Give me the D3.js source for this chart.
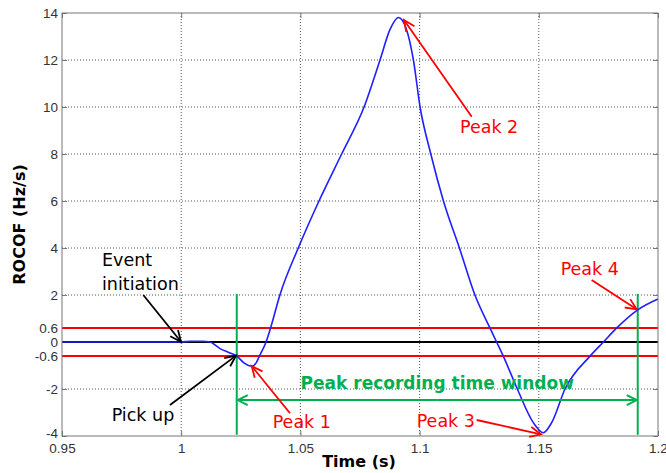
<!DOCTYPE html>
<html>
<head>
<meta charset="utf-8">
<script src="https://cdn.jsdelivr.net/npm/d3@7"></script>
<style>
  html, body { margin: 0; padding: 0; background: #fff; }
  svg { display: block; }
</style>
</head>
<body>
<svg id="chart" width="666" height="473"></svg>
<script>
// ---- data ----
const time = [0.95, 0.97, 0.99, 1.0, 1.004, 1.009, 1.012, 1.0163, 1.02, 1.0233, 1.0265, 1.0296, 1.0315, 1.0328,
  1.0356, 1.0375, 1.0414, 1.0491, 1.0578, 1.0673, 1.0767, 1.0834, 1.0876, 1.0911, 1.0945, 1.0974, 1.1002,
  1.1047, 1.1100, 1.1167, 1.1232, 1.1295, 1.1323, 1.1351, 1.1410, 1.1477, 1.1519, 1.1554, 1.1610, 1.1715,
  1.1771, 1.1827, 1.1915, 1.2];
const rocof = [0, 0, 0, 0, 0.03, 0.03, 0, -0.28, -0.45, -0.6, -0.9, -1.03, -0.88, -0.6,
  0, 0.6, 2, 4, 6, 8, 10, 12, 13.3, 13.81, 13.3, 12, 10,
  8, 6, 4, 2, 0.6, 0, -0.6, -2, -3.43, -3.86, -3.43, -2, -0.6,
  0, 0.6, 1.37, 1.83];

const xTicks = [0.95, 1, 1.05, 1.1, 1.15, 1.2];
const xTickLabels = ["0.95", "1", "1.05", "1.1", "1.15", "1.2"];
const yTicks = [-4, -2, -0.6, 0, 0.6, 2, 4, 6, 8, 10, 12, 14];
const yTickLabels = ["-4", "-2", "-0.6", "0", "0.6", "2", "4", "6", "8", "10", "12", "14"];

const thresholds = [0.6, -0.6];          // red lines
const windowStart = 1.0233, windowEnd = 1.1915;   // green window
const windowTop = 2.05, windowBottom = -3.95, windowArrowLevel = -2.47;
const windowLabel = "Peak recording time window";

// annotations: label lines, text anchor (t, v), arrow from (t, v), arrow to (t, v), colour
const annLabels = [["Event", "initiation"], ["Pick up"], ["Peak 1"], ["Peak 2"], ["Peak 3"], ["Peak 4"]];
const annText = [[0.96678, 3.234], [0.97085, -3.362], [1.03838, -3.672], [1.11695, 8.906], [1.09878, -3.604], [1.15918, 2.851]];
const annFrom = [[0.98410, 2.0], [0.9953, -2.681], [1.04564, -3.034], [1.12186, 9.587], [1.12395, -3.319], [1.17218, 2.638]];
const annTo = [[0.99992, 0.013], [1.0230, -0.579], [1.02957, -1.021], [1.09346, 13.70], [1.15092, -3.928], [1.19106, 1.391]];
const annColors = ["#000000", "#000000", "#ff0000", "#ff0000", "#ff0000", "#ff0000"];

// ---- layout ----
const svg = d3.select("#chart");
const L = 62, R = 658, T = 13, B = 436;
const x = d3.scaleLinear().domain([0.95, 1.2]).range([L, R]);
const y = d3.scaleLinear().domain([-4, 14]).range([B, T]);

const tickFont = "'Liberation Sans', Arial, sans-serif";
const annFont = "'DejaVu Sans', Verdana, sans-serif";

// grid
const gridX = xTicks.filter(d => d > 0.95 && d < 1.2);
const gridY = yTicks.filter(d => d > -4 && d < 14);
svg.append("g").selectAll("line").data(gridX).join("line")
  .attr("x1", d => x(d)).attr("x2", d => x(d)).attr("y1", T).attr("y2", B)
  .attr("stroke", "#555").attr("stroke-width", 1).attr("stroke-dasharray", "1,2");
svg.append("g").selectAll("line").data(gridY).join("line")
  .attr("x1", L).attr("x2", R).attr("y1", d => y(d)).attr("y2", d => y(d))
  .attr("stroke", "#555").attr("stroke-width", 1).attr("stroke-dasharray", "1,2");

// axes (ticks inside)
function styleAxis(g) {
  g.select(".domain").remove();
  g.selectAll(".tick line").attr("stroke", "#777");
  g.selectAll(".tick text").attr("fill", "#333").style("font-family", tickFont).style("font-size", "13.5px");
}
svg.append("g").attr("transform", `translate(0,${B})`)
  .call(d3.axisBottom(x).tickValues(xTicks).tickFormat((d, i) => xTickLabels[i]).tickSizeInner(-5).tickSizeOuter(0).tickPadding(7))
  .call(styleAxis);
svg.append("g").attr("transform", `translate(0,${T})`)
  .call(d3.axisTop(x).tickValues(xTicks).tickFormat("").tickSizeInner(-5).tickSizeOuter(0))
  .call(styleAxis);
const yAxisG = svg.append("g").attr("transform", `translate(${L},0)`)
  .call(d3.axisLeft(y).tickValues(yTicks).tickFormat((d, i) => yTickLabels[i]).tickSizeInner(-5).tickSizeOuter(0).tickPadding(4))
  .call(styleAxis);
// lift the bottom label a little, as in the reference, so it clears the "0.95"
yAxisG.selectAll(".tick").filter(d => d === -4).select("text").attr("dy", "0.12em");
svg.append("g").attr("transform", `translate(${R},0)`)
  .call(d3.axisRight(y).tickValues(yTicks).tickFormat("").tickSizeInner(-5).tickSizeOuter(0))
  .call(styleAxis);

// threshold and zero lines
svg.append("g").selectAll("line").data(thresholds).join("line")
  .attr("x1", L).attr("x2", R).attr("y1", d => y(d)).attr("y2", d => y(d))
  .attr("stroke", "#ff0000").attr("stroke-width", 2);
svg.append("line").attr("x1", L).attr("x2", R).attr("y1", y(0)).attr("y2", y(0))
  .attr("stroke", "#000").attr("stroke-width", 1.8);

// window lines
svg.append("g").selectAll("line").data([windowStart, windowEnd]).join("line")
  .attr("x1", d => x(d)).attr("x2", d => x(d)).attr("y1", y(windowTop)).attr("y2", y(windowBottom))
  .attr("stroke", "#00b050").attr("stroke-width", 2);

// curve
const pts = time.map((t, i) => [t, rocof[i]]);
svg.append("path").datum(pts)
  .attr("d", d3.line().x(d => x(d[0])).y(d => y(d[1])).curve(d3.curveMonotoneX))
  .attr("fill", "none").attr("stroke", "#1f1fff").attr("stroke-width", 1.6);

// box
svg.append("rect").attr("x", L).attr("y", T).attr("width", R - L).attr("height", B - T)
  .attr("fill", "none").attr("stroke", "#777").attr("stroke-width", 1);

// arrow helper (open V head)
function arrow(g, x1, y1, x2, y2, color, len, half, w) {
  g.append("line").attr("x1", x1).attr("y1", y1).attr("x2", x2).attr("y2", y2)
    .attr("stroke", color).attr("stroke-width", w);
  const a = Math.atan2(y2 - y1, x2 - x1);
  const p1 = [x2 - len * Math.cos(a) + half * Math.sin(a), y2 - len * Math.sin(a) - half * Math.cos(a)];
  const p2 = [x2 - len * Math.cos(a) - half * Math.sin(a), y2 - len * Math.sin(a) + half * Math.cos(a)];
  g.append("path").attr("d", `M${p1[0]},${p1[1]}L${x2},${y2}L${p2[0]},${p2[1]}`)
    .attr("fill", "none").attr("stroke", color).attr("stroke-width", w).attr("stroke-linejoin", "miter");
}

// window double arrow
const wg = svg.append("g");
const ya = y(windowArrowLevel);
const xm = (x(windowStart) + x(windowEnd)) / 2;
arrow(wg, xm, ya, x(windowStart) + 1, ya, "#00b050", 10, 5, 2);
arrow(wg, xm, ya, x(windowEnd) - 1, ya, "#00b050", 10, 5, 2);
wg.append("text").attr("x", xm).attr("y", y(-1.99)).attr("text-anchor", "middle")
  .style("font-family", annFont).style("font-weight", "bold").style("font-size", "17px")
  .attr("fill", "#00b050").text(windowLabel);

// annotations
const ag = svg.append("g");
annLabels.forEach((lines, i) => {
  const c = annColors[i];
  arrow(ag, x(annFrom[i][0]), y(annFrom[i][1]), x(annTo[i][0]), y(annTo[i][1]), c, 11, 5, 1.8);
  const tx = ag.append("text").attr("x", x(annText[i][0])).attr("y", y(annText[i][1]))
    .style("font-family", annFont).style("font-size", "17.5px").attr("fill", c);
  lines.forEach((ln, j) => {
    tx.append("tspan").attr("x", x(annText[i][0])).attr("dy", j === 0 ? 0 : "1.38em").text(ln);
  });
});

// axis titles
svg.append("text").attr("x", 359).attr("y", 466.5).attr("text-anchor", "middle")
  .style("font-family", annFont).style("font-weight", "bold").style("font-size", "16px")
  .attr("fill", "#000").text("Time (s)");
svg.append("text").attr("transform", `translate(25,${(T + B) / 2}) rotate(-90)`).attr("text-anchor", "middle")
  .style("font-family", annFont).style("font-weight", "bold").style("font-size", "16px")
  .attr("fill", "#000").text("ROCOF (Hz/s)");
</script>
</body>
</html>
